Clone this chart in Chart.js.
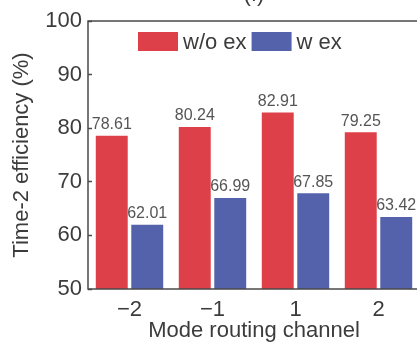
<!DOCTYPE html>
<html>
<head>
<meta charset="utf-8">
<script src="https://cdn.jsdelivr.net/npm/chart.js@4/dist/chart.umd.min.js"></script>
<style>
  html, body { margin: 0; padding: 0; background: #fff; overflow: hidden; width: 417px; height: 347px; }
  #wrap { position: absolute; left: 0; top: -18px; }
</style>
</head>
<body>
<div id="wrap"><canvas id="c" width="421" height="365"></canvas></div>
<script>
// Mode routing channels and time-2 efficiency (%) with / without excitation
const channels = ['\u22122', '\u22121', '1', '2'];
const withoutEx = [78.61, 80.24, 82.91, 79.25];
const withEx = [62.01, 66.99, 67.85, 63.42];
const yTicks = [50, 60, 70, 80, 90, 100];

const RED = 'rgb(222,64,73)';
const BLUE = 'rgb(84,98,171)';
const TEXT = '#3c3c3c';
const FONT = "'Liberation Sans', Arial, sans-serif";

// frame around the plotting area
const framePlugin = {
  id: 'frame',
  afterDraw(chart) {
    const { ctx, chartArea: a } = chart;
    ctx.save();
    ctx.strokeStyle = '#4a4a4a';
    ctx.lineWidth = 1.5;
    ctx.strokeRect(a.left, a.top, a.right - a.left, a.bottom - a.top);
    ctx.restore();
  }
};

// value labels above each bar
const valueLabels = {
  id: 'valueLabels',
  afterDatasetsDraw(chart) {
    const { ctx } = chart;
    ctx.save();
    ctx.font = '16px ' + FONT;
    ctx.fillStyle = '#555';
    ctx.textAlign = 'center';
    ctx.textBaseline = 'bottom';
    chart.data.datasets.forEach((ds, i) => {
      chart.getDatasetMeta(i).data.forEach((bar, j) => {
        ctx.fillText(ds.data[j].toFixed(2), bar.x, bar.y - 3);
      });
    });
    ctx.restore();
  }
};

// legend drawn inside the plot area, near its top
const innerLegend = {
  id: 'innerLegend',
  afterDraw(chart) {
    const { ctx, chartArea: a } = chart;
    ctx.save();
    ctx.font = '22px ' + FONT;
    ctx.textBaseline = 'middle';
    ctx.textAlign = 'left';
    let x = a.left + 50;
    const top = a.top + 11;
    const bw = 40, bh = 19;
    chart.data.datasets.forEach(ds => {
      ctx.fillStyle = ds.backgroundColor;
      ctx.fillRect(x, top, bw, bh);
      x += bw + 5;
      ctx.fillStyle = TEXT;
      ctx.fillText(ds.label, x, top + bh / 2 + 1);
      x += ctx.measureText(ds.label).width + 5;
    });
    ctx.restore();
  }
};

new Chart(document.getElementById('c'), {
  type: 'bar',
  data: {
    labels: channels,
    datasets: [
      { label: 'w/o ex', data: withoutEx, backgroundColor: RED },
      { label: 'w ex', data: withEx, backgroundColor: BLUE }
    ]
  },
  options: {
    responsive: false,
    animation: false,
    devicePixelRatio: 1,
    layout: { padding: { left: 0, right: 1, top: 0, bottom: 0 } },
    datasets: { bar: { categoryPercentage: 0.855, barPercentage: 0.9 } },
    plugins: {
      legend: { display: false },
      tooltip: { enabled: false },
      title: {
        display: true,
        text: '(f)',
        fullSize: false,
        color: TEXT,
        font: { family: FONT, size: 22, weight: 'normal' },
        padding: { top: 0, bottom: 12.6 }
      }
    },
    scales: {
      x: {
        grid: { display: false, drawTicks: false },
        border: { display: false },
        ticks: { color: TEXT, font: { family: FONT, size: 22 }, padding: 8 },
        title: {
          display: true,
          text: 'Mode routing channel',
          color: TEXT,
          font: { family: FONT, size: 22 },
          padding: { top: 0, bottom: 3 }
        },
        afterFit(scale) { scale.height = 58; }
      },
      y: {
        min: 50,
        max: 100,
        afterBuildTicks(scale) { scale.ticks = yTicks.map(v => ({ value: v })); },
        grid: {
          display: true,
          drawOnChartArea: false,
          drawTicks: true,
          tickLength: -4,
          tickColor: '#4a4a4a',
          tickWidth: 1.5
        },
        border: { display: false },
        ticks: { color: TEXT, font: { family: FONT, size: 22 }, padding: 10 },
        title: {
          display: true,
          text: 'Time-2 efficiency (%)',
          color: TEXT,
          font: { family: FONT, size: 22 },
          padding: { top: 9, bottom: 0 }
        },
        afterFit(scale) { scale.width = 88; }
      }
    }
  },
  plugins: [framePlugin, valueLabels, innerLegend]
});
</script>
</body>
</html>
